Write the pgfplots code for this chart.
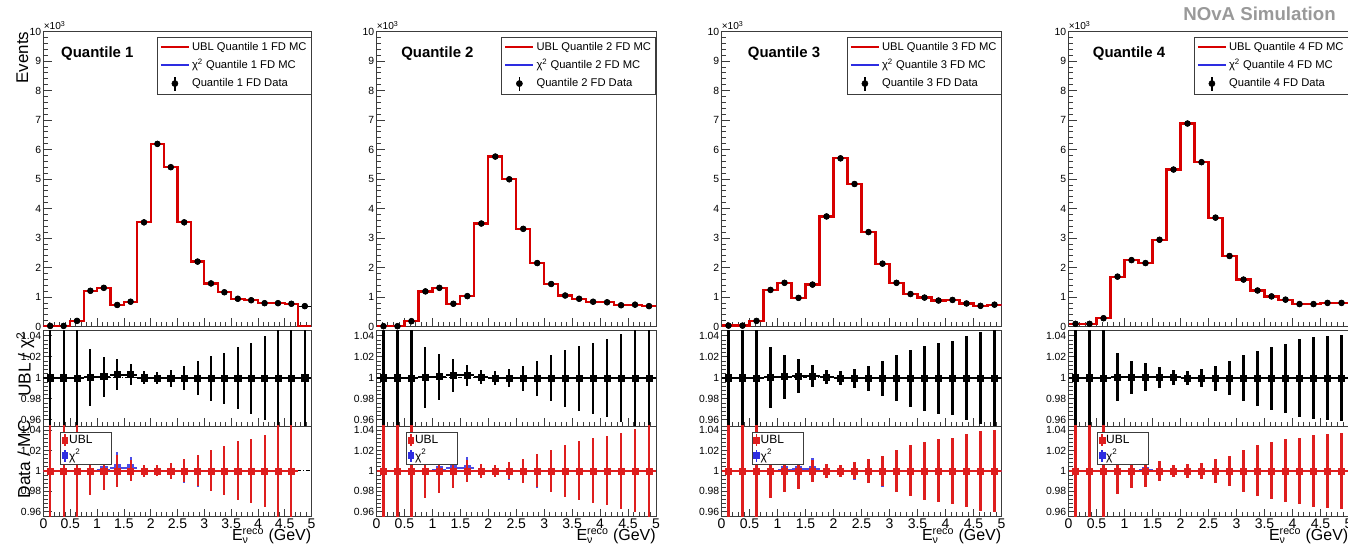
\documentclass[border=0pt]{standalone}
\usepackage{fontspec}
\setmainfont{Liberation Sans}
\usepackage{amsmath}
\usepackage{pgfplots}
\pgfplotsset{compat=1.18}
\usepackage{pgfplotstable}

\definecolor{rootred}{RGB}{215,0,0}
\definecolor{rootblue}{RGB}{45,45,225}
\definecolor{errred}{RGB}{222,30,30}
\definecolor{framegray}{RGB}{60,60,60}

% columns: xe = bin low edge, xc = bin centre, d = data, mc = MC, r = UBL/chi2, erm = its error,
% b = Data/chi2, u = Data/UBL, erb = error of Data/MC
\pgfplotstableread{
xe xc d mc r erm b u erb
0 0.125 0.02 0.02 1.0000 0.2 1.0000 1 0.2
0.25 0.375 0.02 0.02 1.0000 0.2 1.0000 1 0.2
0.5 0.625 0.19 0.19 0.9998 0.2 0.9995 1 0.2
0.75 0.875 1.21 1.21 1.0003 0.0273 1.0000 1 0.0237
1 1.125 1.31 1.31 1.0010 0.0189 1.0010 1 0.0187
1.25 1.375 0.73 0.73 1.0030 0.0146 1.0030 1 0.0155
1.5 1.625 0.84 0.84 1.0030 0.0099 1.0030 1 0.0103
1.75 1.875 3.53 3.53 1.0000 0.0062 1.0000 1 0.0057
2 2.125 6.19 6.19 0.9995 0.0059 1.0000 1 0.0053
2.25 2.375 5.40 5.40 0.9995 0.0083 0.9995 1 0.0080
2.5 2.625 3.53 3.53 0.9995 0.0114 0.9995 1 0.0113
2.75 2.875 2.20 2.20 0.9995 0.0160 0.9995 1 0.0153
3 3.125 1.46 1.46 0.9995 0.0213 1.0000 1 0.0200
3.25 3.375 1.16 1.16 0.9995 0.0245 1.0000 1 0.0240
3.5 3.625 0.94 0.94 0.9995 0.0297 1.0000 1 0.0290
3.75 3.875 0.89 0.89 0.9995 0.0340 1.0000 1 0.0317
4 4.125 0.79 0.79 0.9995 0.0400 1.0000 1 0.0350
4.25 4.375 0.79 0.79 0.9995 0.2 1.0000 1 0.2
4.5 4.625 0.77 0.77 0.9995 0.2 1.0000 1 0.2
4.75 4.875 0.69 0 1.0000 0.2 nan nan nan
5 nan nan 0 nan nan nan nan nan
}\tabA

\pgfplotstableread{
xe xc d mc r erm b u erb
0 0.125 0.01 0.01 1.0000 0.2 1.0000 1 0.2
0.25 0.375 0.01 0.01 1.0000 0.2 1.0000 1 0.2
0.5 0.625 0.18 0.18 0.9998 0.2 0.9995 1 0.2
0.75 0.875 1.19 1.19 1.0003 0.0290 1.0000 1 0.0270
1 1.125 1.31 1.31 1.0010 0.0220 1.0010 1 0.0220
1.25 1.375 0.77 0.77 1.0025 0.0158 1.0025 1 0.0164
1.5 1.625 1.03 1.03 1.0025 0.0100 1.0025 1 0.0107
1.75 1.875 3.49 3.49 1.0005 0.0068 1.0000 1 0.0066
2 2.125 5.76 5.76 0.9995 0.0065 1.0000 1 0.0062
2.25 2.375 4.99 4.99 0.9995 0.0086 0.9995 1 0.0082
2.5 2.625 3.31 3.31 0.9995 0.0120 0.9995 1 0.0115
2.75 2.875 2.15 2.15 0.9995 0.0167 0.9995 1 0.0162
3 3.125 1.44 1.44 0.9995 0.0220 1.0000 1 0.0208
3.25 3.375 1.05 1.05 0.9995 0.0270 1.0000 1 0.0254
3.5 3.625 0.94 0.94 0.9995 0.0310 1.0000 1 0.0290
3.75 3.875 0.84 0.84 0.9995 0.0340 1.0000 1 0.0320
4 4.125 0.82 0.82 0.9995 0.0370 1.0000 1 0.0340
4.25 4.375 0.72 0.72 0.9995 0.0420 1.0000 1 0.0374
4.5 4.625 0.74 0.74 0.9995 0.0470 1.0000 1 0.0407
4.75 4.875 0.69 0.69 0.9995 0.2 1.0000 1 0.2
5 nan nan 0.69 nan nan nan nan nan
}\tabB

\pgfplotstableread{
xe xc d mc r erm b u erb
0 0.125 0.03 0.03 1.0000 0.2 1.0000 1 0.2
0.25 0.375 0.03 0.03 1.0000 0.2 1.0000 1 0.2
0.5 0.625 0.19 0.19 0.9998 0.2 0.9995 1 0.2
0.75 0.875 1.24 1.24 1.0003 0.0288 1.0000 1 0.0270
1 1.125 1.48 1.48 1.0010 0.0210 1.0010 1 0.0210
1.25 1.375 0.97 0.97 1.0015 0.0160 1.0015 1 0.0175
1.5 1.625 1.42 1.42 1.0015 0.0106 1.0015 1 0.0107
1.75 1.875 3.73 3.73 1.0005 0.0068 1.0000 1 0.0069
2 2.125 5.70 5.70 0.9995 0.0068 1.0000 1 0.0062
2.25 2.375 4.83 4.83 0.9995 0.0090 0.9995 1 0.0082
2.5 2.625 3.20 3.20 0.9995 0.0120 0.9995 1 0.0115
2.75 2.875 2.13 2.13 0.9995 0.0167 0.9995 1 0.0150
3 3.125 1.48 1.48 0.9995 0.0220 1.0000 1 0.0207
3.25 3.375 1.10 1.10 0.9995 0.0270 1.0000 1 0.0250
3.5 3.625 0.98 0.98 0.9995 0.0310 1.0000 1 0.0285
3.75 3.875 0.88 0.88 0.9995 0.0340 1.0000 1 0.0310
4 4.125 0.90 0.90 0.9995 0.0355 1.0000 1 0.0325
4.25 4.375 0.78 0.78 0.9995 0.0400 1.0000 1 0.0357
4.5 4.625 0.70 0.70 0.9995 0.0440 1.0000 1 0.0390
4.75 4.875 0.74 0.74 0.9995 0.0455 1.0000 1 0.0400
5 nan nan 0.74 nan nan nan nan nan
}\tabC

\pgfplotstableread{
xe xc d mc r erm b u erb
0 0.125 0.09 0.09 1.0000 0.2 1.0000 1 0.2
0.25 0.375 0.09 0.09 1.0000 0.2 1.0000 1 0.2
0.5 0.625 0.28 0.28 0.9995 0.2 0.9995 1 0.2
0.75 0.875 1.69 1.69 1.0003 0.0228 1.0000 1 0.0225
1 1.125 2.25 2.25 1.0003 0.0160 1.0000 1 0.0170
1.25 1.375 2.15 2.15 1.0005 0.0135 1.0005 1 0.0155
1.5 1.625 2.94 2.94 1.0003 0.0098 1.0000 1 0.0100
1.75 1.875 5.32 5.32 1.0003 0.0068 1.0000 1 0.0060
2 2.125 6.88 6.88 0.9998 0.0070 1.0000 1 0.0066
2.25 2.375 5.57 5.57 0.9995 0.0086 0.9995 1 0.0080
2.5 2.625 3.69 3.69 0.9995 0.0120 0.9995 1 0.0115
2.75 2.875 2.39 2.39 0.9995 0.0160 1.0000 1 0.0150
3 3.125 1.59 1.59 0.9995 0.0220 1.0000 1 0.0205
3.25 3.375 1.22 1.22 0.9995 0.0260 1.0000 1 0.0250
3.5 3.625 1.02 1.02 0.9995 0.0300 1.0000 1 0.0280
3.75 3.875 0.91 0.91 0.9995 0.0330 1.0000 1 0.0310
4 4.125 0.76 0.76 0.9995 0.0370 1.0000 1 0.0325
4.25 4.375 0.76 0.76 0.9995 0.0390 1.0000 1 0.0350
4.5 4.625 0.80 0.80 0.9995 0.0400 1.0000 1 0.0360
4.75 4.875 0.80 0.80 0.9995 0.0410 1.0000 1 0.0370
5 nan nan 0.80 nan nan nan nan nan
}\tabD

\pgfplotsset{
  rootbase/.style={
    scale only axis, xmin=0, xmax=5, clip mode=individual,
    axis line style={framegray, line width=0.6pt},
    tick style={framegray, line width=0.5pt},
    major tick length=6pt, minor tick length=3.2pt,
    xtick={0,0.5,1,1.5,2,2.5,3,3.5,4,4.5,5}, minor x tick num=4,
    xtick pos=bottom, ytick pos=left, tick align=inside,
    /pgf/number format/assume math mode=true,
    yticklabel style={font=\fontsize{7.8}{9}\selectfont, inner sep=1.5pt},
  },
  toppanel/.style={ymin=0, ymax=10, ytick={0,1,2,3,4,5,6,7,8,9,10},
    yticklabels={0,1,2,3,4,5,6,7,8,9,10}, minor y tick num=4, xticklabels={}},
  ratiopanel/.style={ytick={0.96,0.98,1,1.02,1.04},
    yticklabels={0.96,0.98,1,1.02,1.04}, minor y tick num=4},
  ebars/.style={/pgfplots/error bars/x dir=both, /pgfplots/error bars/x fixed=0.125,
    /pgfplots/error bars/y dir=both, /pgfplots/error bars/y explicit,
    /pgfplots/error bars/error mark=none,
    /pgfplots/error bars/error bar style={line width=1.6pt}},
}

% #1 table, #2 x0, #3 width, #4 quantile, #5 label shift, #6 lower legend shift, #7-#9 extra options
\newcommand{\quantcol}[9]{%
\begin{axis}[rootbase, toppanel, at={(#2,166.125pt)}, anchor=south west, width=#3, height=221.25pt,
  legend style={at={(1,1)}, anchor=north east, yshift=-4.1pt, draw=framegray, fill=white,
    font=\fontsize{8.4}{10}\selectfont, inner sep=2pt, row sep=2.5pt, nodes={inner sep=1.5pt}},
  legend cell align=left, #7]
  \addplot[black, only marks, mark=none, forget plot,
    /pgfplots/error bars/x dir=both, /pgfplots/error bars/x fixed=0.125,
    /pgfplots/error bars/error mark=none, /pgfplots/error bars/error bar style={line width=0.8pt}]
    table[x=xc, y=d] {#1};
  \addplot[rootblue, line width=1.7pt, const plot, forget plot] table[x=xe, y=mc] {#1};
  \addplot[rootred, line width=1.7pt, const plot,
    legend image code/.code={\draw[rootred, line width=1.7pt] (0pt,0pt) -- (21pt,0pt);}]
    table[x=xe, y=mc] {#1};
  \addlegendentry{UBL Quantile #4 FD MC}
  \addlegendimage{legend image code/.code={\draw[rootblue, line width=1.7pt] (0pt,0pt) -- (21pt,0pt);}}
  \addlegendentry{χ\textsuperscript{2} Quantile #4 FD MC}
  \addplot[black, only marks, mark=*, mark size=2.2pt,
    legend image code/.code={\draw[black, line width=0.9pt] (10.5pt,-5.3pt) -- (10.5pt,5.3pt);
      \fill[black] (10.5pt,0pt) circle (2.3pt);}]
    table[x=xc, y=d] {#1};
  \addlegendentry{Quantile #4 FD Data}
  \node[anchor=west, inner sep=0pt, font=\bfseries\fontsize{11.2}{13}\selectfont]
    at ([xshift=#5, yshift=-16.9pt]rel axis cs:0,1) {Quantile #4};
  \node[anchor=base west, inner sep=0pt, font=\fontsize{7.6}{8}\selectfont]
    at ([yshift=1.2pt]rel axis cs:0,1) {×10\textsuperscript{3}};
\end{axis}
\begin{axis}[rootbase, ratiopanel, at={(#2,91.5pt)}, anchor=south west, width=#3, height=71.625pt,
  ymin=0.954, ymax=1.045, xticklabels={}, #8]
  \addplot[black, line width=0.6pt, dash pattern=on 3pt off 1.5pt on 0.8pt off 1.5pt]
    coordinates {(0,1) (5,1)};
  \addplot[black, only marks, mark=square*, mark size=2.3pt, ebars] table[x=xc, y=r, y error=erm] {#1};
\end{axis}
\begin{axis}[rootbase, ratiopanel, at={(#2,23.475pt)}, anchor=south west, width=#3, height=68.025pt,
  ymin=0.955, ymax=1.044, xticklabels={0,0.5,1,1.5,2,2.5,3,3.5,4,4.5,5},
  xticklabel style={font=\fontsize{10.5}{12}\selectfont, inner sep=1.5pt},
  xlabel={E\(^{\text{reco}}_{\text{ν}}\) (GeV)},
  xlabel style={at={([yshift=-17.5pt]rel axis cs:1,0)}, anchor=base east, inner sep=0pt,
    font=\fontsize{12}{14}\selectfont},
  legend style={at={(0,1)}, anchor=north west, xshift=#6, yshift=-4.2pt, draw=framegray, fill=white,
    font=\fontsize{9}{10}\selectfont, inner sep=1pt, row sep=1pt, nodes={inner sep=0.8pt}},
  legend cell align=left, #9]
  \addplot[black, line width=0.6pt, dash pattern=on 3pt off 1.5pt on 0.8pt off 1.5pt, forget plot]
    coordinates {(0,1) (5,1)};
  \addplot[rootblue!85, only marks, mark=square*, mark size=2.3pt, forget plot, ebars]
    table[x=xc, y=b, y error=erb] {#1};
  \addplot[errred, only marks, mark=square*, mark size=2.3pt,
    legend image code/.code={\draw[errred, line width=1.3pt] (3pt,-4.5pt) -- (3pt,4.5pt);
      \fill[errred] (0.8pt,-2.2pt) rectangle (5.2pt,2.2pt);}, ebars]
    table[x=xc, y=u, y error=erb] {#1};
  \addlegendentry{\makebox[30pt][l]{UBL}}
  \addlegendimage{legend image code/.code={\draw[rootblue, line width=1.3pt] (3pt,-4.5pt) -- (3pt,4.5pt);
      \fill[rootblue] (0.8pt,-2.2pt) rectangle (5.2pt,2.2pt);}}
  \addlegendentry{χ\textsuperscript{2}}
\end{axis}
}

\begin{document}
\begin{tikzpicture}
\useasboundingbox (0,0) rectangle (1011pt,411pt);

\quantcol{\tabA}{32.625pt}{201pt}{1}{13.1pt}{12.4pt}%
 {ylabel={Events}, ylabel style={at={([xshift=-11.6pt]rel axis cs:0,1)}, anchor=base east, inner sep=0pt, font=\fontsize{12.7}{14}\selectfont}}%
 {ylabel={UBL / χ\textsuperscript{2}}, ylabel style={at={([xshift=-9.6pt, yshift=-0.9pt]rel axis cs:0,1)}, anchor=base east, inner sep=0pt, font=\fontsize{13}{15}\selectfont}}%
 {ylabel={Data / MC}, ylabel style={at={([xshift=-10.1pt, yshift=4.5pt]rel axis cs:0,1)}, anchor=base east, inner sep=0pt, font=\fontsize{13}{15}\selectfont}}

\quantcol{\tabB}{282.375pt}{209.625pt}{2}{18.4pt}{22.1pt}{}{}{}
\quantcol{\tabC}{541.125pt}{210pt}{3}{19.6pt}{22.6pt}{}{}{}
\quantcol{\tabD}{801.375pt}{210pt}{4}{18.1pt}{21.4pt}{}{}{}

\node[anchor=east, inner sep=0pt, text=black!40, font=\bfseries\fontsize{14}{16}\selectfont]
  at (1002pt,400.3pt) {NOvA Simulation};
\end{tikzpicture}
\end{document}
